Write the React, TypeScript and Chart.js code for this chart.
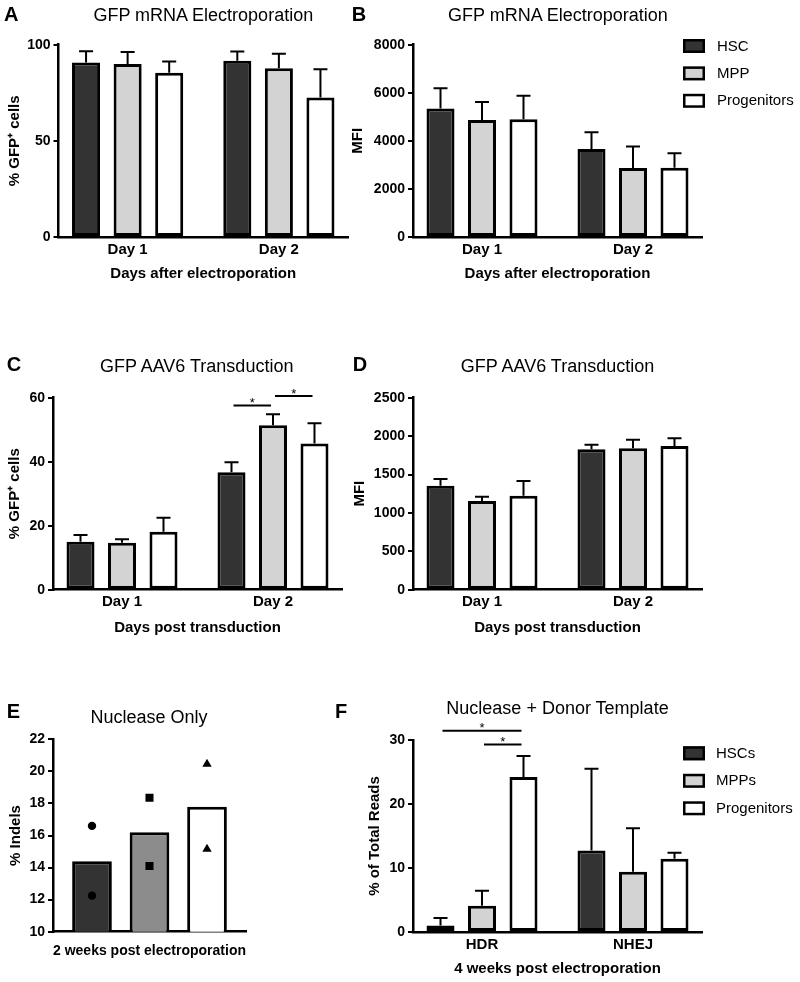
import React, { useEffect, useRef } from 'react';
import { Chart, registerables } from 'chart.js';

Chart.register(...registerables);

const FONT = "'Liberation Sans', Arial, Helvetica, sans-serif";
Chart.defaults.font.family = FONT;
Chart.defaults.color = '#000';

// ---------- data ----------
const dayLabels = ['Day 1', 'Day 2'];
const cellTypes = ['HSC', 'MPP', 'Progenitors'];
const cellTypesF = ['HSCs', 'MPPs', 'Progenitors'];
const editLabels = ['HDR', 'NHEJ'];

// A: % GFP+ cells after mRNA electroporation
const aHSC = [90.8, 91.7];
const aHSCsd = [5.8, 4.7];
const aMPP = [90.0, 87.7];
const aMPPsd = [6.2, 7.6];
const aPro = [85.4, 72.6];
const aProsd = [5.8, 14.6];
const aYTicks = [0, 50, 100];

// B: MFI after mRNA electroporation
const bHSC = [5350, 3660];
const bHSCsd = [840, 700];
const bMPP = [4870, 2870];
const bMPPsd = [750, 890];
const bPro = [4900, 2880];
const bProsd = [980, 600];
const bYTicks = [0, 2000, 4000, 6000, 8000];

// C: % GFP+ cells after AAV6 transduction
const cHSC = [15.0, 36.7];
const cHSCsd = [2.1, 3.1];
const cMPP = [14.7, 51.4];
const cMPPsd = [1.1, 3.4];
const cPro = [18.1, 45.7];
const cProsd = [4.4, 6.3];
const cYTicks = [0, 20, 40, 60];
const cBrackets = [
  { a: 0, b: 1, i: 1, y: 57.6, text: '*' },
  { a: 1, b: 2, i: 1, y: 60.5, text: '*' },
];

// D: MFI after AAV6 transduction
const dHSC = [1354, 1828];
const dHSCsd = [87, 60];
const dMPP = [1155, 1841];
const dMPPsd = [56, 112];
const dPro = [1224, 1871];
const dProsd = [191, 100];
const dYTicks = [0, 500, 1000, 1500, 2000, 2500];

// E: % indels, nuclease only
const eMeans = [14.4, 16.2, 17.8];
const eHSCpts = [16.6, 12.25];
const eMPPpts = [18.35, 14.1];
const eProPts = [20.45, 15.15];
const eYTicks = [10, 12, 14, 16, 18, 20, 22];

// F: % of total reads, nuclease + donor
const fHSC = [1.0, 12.75];
const fHSCsd = [1.2, 12.75];
const fMPP = [4.1, 9.4];
const fMPPsd = [2.35, 6.8];
const fPro = [24.2, 11.45];
const fProsd = [3.3, 0.95];
const fYTicks = [0, 10, 20, 30];
const fBrackets = [
  { a: 0, b: 2, i: 0, y: 31.45, text: '*' },
  { a: 1, b: 2, i: 0, y: 29.3, text: '*' },
];

// ---------- colours ----------
const DARK = '#333333';
const LIGHT = '#d3d3d3';
const WHITE = '#ffffff';
const MID = '#8c8c8c';

// ---------- plugins ----------
const errBars = {
  id: 'errBars',
  afterDatasetsDraw(chart: any) {
    const ctx = chart.ctx;
    const ys = chart.scales.y;
    chart.data.datasets.forEach((ds: any, di: number) => {
      if (!ds.errors) return;
      const meta = chart.getDatasetMeta(di);
      meta.data.forEach((el: any, i: number) => {
        const v = ds.data[i].y;
        const top = ys.getPixelForValue(v + ds.errors[i]);
        ctx.save();
        ctx.strokeStyle = '#000';
        ctx.lineWidth = 2;
        ctx.beginPath();
        ctx.moveTo(el.x, el.y);
        ctx.lineTo(el.x, top);
        ctx.moveTo(el.x - 7, top);
        ctx.lineTo(el.x + 7, top);
        ctx.stroke();
        ctx.restore();
      });
    });
  },
};

const sigBrackets = {
  id: 'sigBrackets',
  afterDraw(chart: any, _a: any, o: any) {
    if (!o || !o.items) return;
    const ctx = chart.ctx;
    const ys = chart.scales.y;
    const items = o.items as any[];
    for (let k = 0; k < items.length; k++) {
      const it = items[k];
      const x1 = chart.getDatasetMeta(it.a).data[it.i].x + 2;
      const x2 = chart.getDatasetMeta(it.b).data[it.i].x - 2;
      const y = ys.getPixelForValue(it.y);
      ctx.save();
      ctx.strokeStyle = '#000';
      ctx.lineWidth = 2;
      ctx.beginPath();
      ctx.moveTo(x1, y);
      ctx.lineTo(x2, y);
      ctx.stroke();
      ctx.fillStyle = '#000';
      ctx.font = `13px ${FONT}`;
      ctx.textAlign = 'center';
      ctx.textBaseline = 'alphabetic';
      ctx.fillText(it.text, (x1 + x2) / 2, y + 1.5);
      ctx.restore();
    }
  },
};

const boxLegend = {
  id: 'boxLegend',
  afterDraw(chart: any, _a: any, o: any) {
    if (!o || !o.show) return;
    const ctx = chart.ctx;
    chart.data.datasets.forEach((ds: any, i: number) => {
      const cy = o.y + i * o.dy;
      ctx.save();
      ctx.fillStyle = ds.backgroundColor;
      ctx.fillRect(o.x, cy - o.bh / 2, o.bw, o.bh);
      ctx.strokeStyle = '#000';
      ctx.lineWidth = 2.5;
      ctx.strokeRect(o.x + 1.25, cy - o.bh / 2 + 1.25, o.bw - 2.5, o.bh - 2.5);
      ctx.fillStyle = '#000';
      ctx.font = `15px ${FONT}`;
      ctx.textAlign = 'left';
      ctx.textBaseline = 'middle';
      ctx.fillText(ds.label, o.tx, cy + 0.5);
      ctx.restore();
    });
  },
};

// ---------- config builders ----------
type Frame = {
  left: number; top: number; w: number; h: number;
  padTop: number; padRight: number; yAxisW: number; xAxisH: number;
  yTitlePad: number; xTickPad: number; xTitlePadB: number;
};

function baseOptions(frame: Frame, xCfg: any, yTicks: number[], yTitle: string, plugins: any) {
  return {
    responsive: false,
    animation: false,
    devicePixelRatio: 1,
    events: [],
    layout: { padding: { top: frame.padTop, right: frame.padRight, left: 0, bottom: 0 } },
    plugins: {
      legend: { display: false },
      tooltip: { enabled: false },
      title: { display: false },
      ...plugins,
    },
    scales: {
      x: xCfg,
      y: {
        type: 'linear',
        min: yTicks[0],
        max: yTicks[yTicks.length - 1],
        afterBuildTicks: (s: any) => { s.ticks = yTicks.map((v) => ({ value: v })); },
        ticks: {
          font: { family: FONT, size: 14, weight: 'bold' },
          color: '#000',
          padding: 3,
          callback: (v: any) => String(v),
        },
        grid: { display: true, drawOnChartArea: false, drawTicks: true, tickLength: 5, color: '#000', lineWidth: 2 },
        border: { display: true, color: '#000', width: 2.5 },
        title: {
          display: true, text: yTitle, color: '#000',
          font: { family: FONT, size: 15, weight: 'bold' },
          padding: { top: frame.yTitlePad, bottom: 0 },
        },
        afterFit: (s: any) => { s.width = frame.yAxisW; },
      },
    },
  };
}

function xAxis(frame: Frame, labels: string[], min: number, max: number, xTitle: string, showTicks: boolean) {
  return {
    type: 'linear',
    min, max,
    offset: false,
    afterBuildTicks: (s: any) => { s.ticks = labels.map((_, i) => ({ value: i })); },
    ticks: {
      display: showTicks,
      autoSkip: false,
      maxRotation: 0,
      font: { family: FONT, size: 15, weight: 'bold' },
      color: '#000',
      padding: frame.xTickPad,
      callback: (v: any) => labels[Math.round(v)] ?? '',
    },
    grid: { display: false, drawTicks: false, offset: false },
    border: { display: true, color: '#000', width: 2.5 },
    title: {
      display: true, text: xTitle, color: '#000',
      font: { family: FONT, size: 15, weight: 'bold' },
      padding: { top: 0, bottom: frame.xTitlePadB },
    },
    afterFit: (s: any) => { s.height = frame.xAxisH; },
  };
}

type Series = { label: string; values: number[]; sd: number[]; color: string };

function grouped(frame: Frame, categories: string[], series: Series[], yTicks: number[],
  yTitle: string, xTitle: string, extra: any) {
  return {
    type: 'bar',
    data: {
      datasets: series.map((s) => ({
        label: s.label,
        data: s.values.map((v, i) => ({ x: i, y: v })),
        errors: s.sd,
        backgroundColor: s.color,
        borderColor: '#000',
        borderWidth: 3,
        borderSkipped: false,
        categoryPercentage: 0.8245,
        barPercentage: 0.675,
      })),
    },
    options: baseOptions(frame, xAxis(frame, categories, -0.457, 1.457, xTitle, true), yTicks, yTitle, extra),
    plugins: [errBars, sigBrackets, boxLegend],
  };
}

// ---------- frames ----------
const frameA: Frame = { left: 0, top: 0, w: 360, h: 290, padTop: 44.7, padRight: 12, yAxisW: 58.5, xAxisH: 53, yTitlePad: 6, xTickPad: 4, xTitlePadB: 7.3 };
const frameB: Frame = { left: 340, top: 0, w: 460, h: 290, padTop: 44.7, padRight: 98, yAxisW: 73, xAxisH: 53, yTitlePad: 9, xTickPad: 4, xTitlePadB: 7.3 };
const frameC: Frame = { left: 0, top: 340, w: 360, h: 300, padTop: 57.7, padRight: 18, yAxisW: 53, xAxisH: 50.3, yTitlePad: 6, xTickPad: 3, xTitlePadB: 3.5 };
const frameD: Frame = { left: 340, top: 340, w: 460, h: 300, padTop: 57.7, padRight: 98, yAxisW: 73, xAxisH: 50.3, yTitlePad: 10.5, xTickPad: 3, xTitlePadB: 3.5 };
const frameE: Frame = { left: 0, top: 680, w: 300, h: 302, padTop: 59.3, padRight: 54, yAxisW: 53, xAxisH: 50.3, yTitlePad: 7, xTickPad: 3, xTitlePadB: 22.2 };
const frameF: Frame = { left: 340, top: 680, w: 460, h: 302, padTop: 60, padRight: 98, yAxisW: 73, xAxisH: 50, yTitlePad: 26, xTickPad: 4, xTitlePadB: 4 };

function configA() {
  return grouped(frameA, dayLabels, [
    { label: cellTypes[0], values: aHSC, sd: aHSCsd, color: DARK },
    { label: cellTypes[1], values: aMPP, sd: aMPPsd, color: LIGHT },
    { label: cellTypes[2], values: aPro, sd: aProsd, color: WHITE },
  ], aYTicks, '% GFP\u207A cells', 'Days after electroporation', {});
}
function configB() {
  return grouped(frameB, dayLabels, [
    { label: cellTypes[0], values: bHSC, sd: bHSCsd, color: DARK },
    { label: cellTypes[1], values: bMPP, sd: bMPPsd, color: LIGHT },
    { label: cellTypes[2], values: bPro, sd: bProsd, color: WHITE },
  ], bYTicks, 'MFI', 'Days after electroporation', {
    boxLegend: { show: true, x: 343, y: 46, dy: 27.4, bw: 22, bh: 14, tx: 377 },
  });
}
function configC() {
  return grouped(frameC, dayLabels, [
    { label: cellTypes[0], values: cHSC, sd: cHSCsd, color: DARK },
    { label: cellTypes[1], values: cMPP, sd: cMPPsd, color: LIGHT },
    { label: cellTypes[2], values: cPro, sd: cProsd, color: WHITE },
  ], cYTicks, '% GFP\u207A cells', 'Days post transduction', {
    sigBrackets: { items: cBrackets },
  });
}
function configD() {
  return grouped(frameD, dayLabels, [
    { label: cellTypes[0], values: dHSC, sd: dHSCsd, color: DARK },
    { label: cellTypes[1], values: dMPP, sd: dMPPsd, color: LIGHT },
    { label: cellTypes[2], values: dPro, sd: dProsd, color: WHITE },
  ], dYTicks, 'MFI', 'Days post transduction', {});
}
function configF() {
  return grouped(frameF, editLabels, [
    { label: cellTypesF[0], values: fHSC, sd: fHSCsd, color: DARK },
    { label: cellTypesF[1], values: fMPP, sd: fMPPsd, color: LIGHT },
    { label: cellTypesF[2], values: fPro, sd: fProsd, color: WHITE },
  ], fYTicks, '% of Total Reads', '4 weeks post electroporation', {
    sigBrackets: { items: fBrackets },
    boxLegend: { show: true, x: 343, y: 73.3, dy: 27.5, bw: 22, bh: 14, tx: 376 },
  });
}
function configE() {
  const pts = (vals: number[], idx: number, style: string, r: number, label: string) => ({
    type: 'scatter',
    label,
    data: vals.map((v) => ({ x: idx, y: v })),
    pointStyle: style,
    pointRadius: r,
    backgroundColor: '#000',
    borderColor: '#000',
    borderWidth: 0,
    order: 0,
  });
  return {
    type: 'bar',
    data: {
      datasets: [
        {
          type: 'bar',
          label: '% Indels',
          data: eMeans.map((v, i) => ({ x: i, y: v })),
          backgroundColor: [DARK, MID, WHITE],
          borderColor: '#000',
          borderWidth: 3,
          borderSkipped: false,
          categoryPercentage: 1,
          barPercentage: 0.69,
          order: 1,
        },
        pts(eHSCpts, 0, 'circle', 4.2, cellTypes[0]),
        pts(eMPPpts, 1, 'rect', 5.7, cellTypes[1]),
        pts(eProPts, 2, 'triangle', 5.4, cellTypes[2]),
      ],
    },
    options: baseOptions(frameE, xAxis(frameE, cellTypes, -0.678, 2.678, '2 weeks post electroporation', false),
      eYTicks, '% Indels', {}),
  };
}

// ---------- components ----------
function ChartCanvas({ frame, make }: { frame: Frame; make: () => any }) {
  const ref = useRef<HTMLCanvasElement | null>(null);
  useEffect(() => {
    if (!ref.current) return;
    const chart = new Chart(ref.current, make());
    return () => chart.destroy();
  }, []);
  return (
    <canvas
      ref={ref}
      width={frame.w}
      height={frame.h}
      style={{ position: 'absolute', left: frame.left, top: frame.top, width: frame.w, height: frame.h }}
    />
  );
}

function Title({ cx, top, text }: { cx: number; top: number; text: string }) {
  return (
    <div style={{
      position: 'absolute', left: cx - 200, width: 400, top, textAlign: 'center',
      fontSize: 18, lineHeight: '18px', fontFamily: FONT, color: '#000', whiteSpace: 'nowrap',
    }}>{text}</div>
  );
}

function Letter({ left, top, text }: { left: number; top: number; text: string }) {
  return (
    <div style={{
      position: 'absolute', left, top, fontSize: 20, lineHeight: '20px', fontWeight: 'bold',
      fontFamily: FONT, color: '#000',
    }}>{text}</div>
  );
}

export default function App() {
  return (
    <div style={{
      position: 'absolute', left: 0, top: 0, width: 800, height: 982,
      background: '#fff', overflow: 'hidden', fontFamily: FONT,
    }}>
      <ChartCanvas frame={frameA} make={configA} />
      <ChartCanvas frame={frameB} make={configB} />
      <ChartCanvas frame={frameC} make={configC} />
      <ChartCanvas frame={frameD} make={configD} />
      <ChartCanvas frame={frameE} make={configE} />
      <ChartCanvas frame={frameF} make={configF} />

      <Letter left={4} top={3.8} text="A" />
      <Letter left={351.7} top={3.8} text="B" />
      <Letter left={6.7} top={353.8} text="C" />
      <Letter left={352.7} top={353.8} text="D" />
      <Letter left={6.7} top={701} text="E" />
      <Letter left={335} top={701} text="F" />

      <Title cx={203.3} top={5.5} text="GFP mRNA Electroporation" />
      <Title cx={558} top={5.5} text="GFP mRNA Electroporation" />
      <Title cx={196.7} top={356.5} text="GFP AAV6 Transduction" />
      <Title cx={557.5} top={356.5} text="GFP AAV6 Transduction" />
      <Title cx={149} top={707.5} text="Nuclease Only" />
      <Title cx={557.5} top={699} text="Nuclease + Donor Template" />
    </div>
  );
}
